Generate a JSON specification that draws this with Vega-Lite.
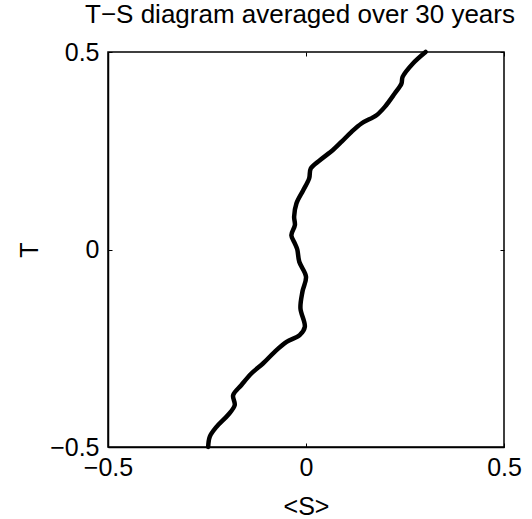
{
  "$schema": "https://vega.github.io/schema/vega-lite/v6.json",
  "width": 396,
  "height": 395,
  "autosize": "none",
  "padding": {"left": 108, "top": 52, "right": 28, "bottom": 72},
  "title": {
    "text": "T−S diagram averaged over 30 years",
    "font": "Liberation Sans",
    "fontSize": 26,
    "fontWeight": "normal",
    "color": "black",
    "anchor": "middle",
    "baseline": "alphabetic",
    "offset": -9,
    "dx": -6
  },
  "config": {
    "view": {"stroke": "black", "strokeWidth": 1.5},
    "axis": {
      "labelFont": "Liberation Sans",
      "labelFontSize": 25,
      "labelColor": "black",
      "titleFont": "Liberation Sans",
      "titleFontSize": 25,
      "titleFontWeight": "normal",
      "titleColor": "black",
      "domainColor": "black",
      "domainWidth": 1.5,
      "tickColor": "black",
      "tickWidth": 1,
      "tickSize": -4,
      "grid": false,
      "labelFlush": false,
      "labelOverlap": false,
      "labelBound": false
    }
  },
  "data": {
    "values": [
      {"S": 0.302, "T": 0.5},
      {"S": 0.270, "T": 0.471},
      {"S": 0.244, "T": 0.437},
      {"S": 0.241, "T": 0.420},
      {"S": 0.224, "T": 0.395},
      {"S": 0.199, "T": 0.361},
      {"S": 0.178, "T": 0.340},
      {"S": 0.140, "T": 0.319},
      {"S": 0.115, "T": 0.298},
      {"S": 0.090, "T": 0.273},
      {"S": 0.068, "T": 0.252},
      {"S": 0.035, "T": 0.226},
      {"S": 0.012, "T": 0.205},
      {"S": 0.008, "T": 0.180},
      {"S": -0.007, "T": 0.150},
      {"S": -0.024, "T": 0.117},
      {"S": -0.030, "T": 0.083},
      {"S": -0.028, "T": 0.062},
      {"S": -0.037, "T": 0.036},
      {"S": -0.028, "T": 0.015},
      {"S": -0.022, "T": 0.0},
      {"S": -0.017, "T": -0.031},
      {"S": 0.0, "T": -0.069},
      {"S": -0.009, "T": -0.107},
      {"S": -0.014, "T": -0.149},
      {"S": -0.003, "T": -0.196},
      {"S": -0.016, "T": -0.217},
      {"S": -0.049, "T": -0.234},
      {"S": -0.079, "T": -0.259},
      {"S": -0.108, "T": -0.288},
      {"S": -0.138, "T": -0.314},
      {"S": -0.163, "T": -0.343},
      {"S": -0.184, "T": -0.369},
      {"S": -0.180, "T": -0.394},
      {"S": -0.197, "T": -0.419},
      {"S": -0.226, "T": -0.449},
      {"S": -0.243, "T": -0.474},
      {"S": -0.247, "T": -0.5}
    ]
  },
  "layer": [
    {
      "mark": {"type": "line", "color": "black", "strokeWidth": 4.5, "interpolate": "catmull-rom", "strokeCap": "round", "strokeJoin": "round"},
      "encoding": {
        "x": {"field": "S", "type": "quantitative", "scale": {"domain": [-0.5, 0.5], "nice": false, "zero": false},
              "axis": {"orient": "bottom", "values": [-0.5, 0, 0.5], "format": "~g", "title": "<S>", "labelPadding": 12, "titlePadding": 14}},
        "y": {"field": "T", "type": "quantitative", "scale": {"domain": [-0.5, 0.5], "nice": false, "zero": false},
              "axis": {"orient": "left", "values": [-0.5, 0, 0.5], "format": "~g", "title": "T", "labelPadding": 13, "titlePadding": 7}},
        "order": {"field": "T", "type": "quantitative"}
      }
    },
    {
      "mark": {"type": "line", "opacity": 0},
      "encoding": {
        "x": {"field": "S", "type": "quantitative", "scale": {"domain": [-0.5, 0.5], "nice": false, "zero": false},
              "axis": {"orient": "top", "values": [-0.5, 0, 0.5], "labels": false, "title": null, "domain": false}},
        "y": {"field": "T", "type": "quantitative", "scale": {"domain": [-0.5, 0.5], "nice": false, "zero": false},
              "axis": {"orient": "right", "values": [-0.5, 0, 0.5], "labels": false, "title": null, "domain": false}},
        "order": {"field": "T", "type": "quantitative"}
      }
    }
  ],
  "resolve": {"axis": {"x": "independent", "y": "independent"}}
}
